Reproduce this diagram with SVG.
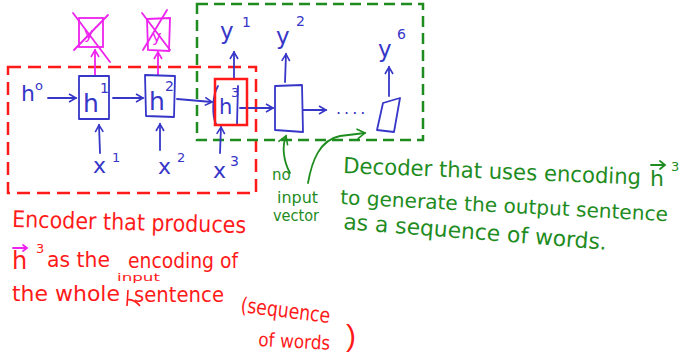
<svg xmlns="http://www.w3.org/2000/svg" width="684" height="360" viewBox="0 0 684 360">
<defs>
<style>
.bl{fill:none;stroke:#3636c8;stroke-width:1.8;stroke-linecap:round;stroke-linejoin:round}
.mg{fill:none;stroke:#ee22ee;stroke-width:1.8;stroke-linecap:round}
.gr{fill:none;stroke:#1e8c1e;stroke-width:1.8;stroke-linecap:round}
.tb{fill:#3636c8;font-family:"DejaVu Sans",sans-serif}
.tm{fill:#ee22ee;font-family:"DejaVu Sans",sans-serif}
.tr{fill:#ff1a1a;font-family:"DejaVu Sans",sans-serif}
.tg{fill:#1e8c1e;font-family:"DejaVu Sans",sans-serif}
.redbox{fill:none;stroke:#ff1a1a;stroke-width:2.5;stroke-dasharray:13 7}
.grbox{fill:none;stroke:#1e8c1e;stroke-width:2.5;stroke-dasharray:11 6}
</style>
<marker id="ab" markerWidth="10" markerHeight="10" refX="8" refY="5" orient="auto" markerUnits="userSpaceOnUse"><path d="M1,1 L8,5 L1,9" fill="none" stroke="#3636c8" stroke-width="1.6"/></marker>
<marker id="am" markerWidth="10" markerHeight="10" refX="8" refY="5" orient="auto" markerUnits="userSpaceOnUse"><path d="M1,1 L8,5 L1,9" fill="none" stroke="#ee22ee" stroke-width="1.6"/></marker>
<marker id="ag" markerWidth="12" markerHeight="12" refX="9" refY="6" orient="auto" markerUnits="userSpaceOnUse"><path d="M1,1 L9,6 L1,11" fill="none" stroke="#1e8c1e" stroke-width="1.6"/></marker>
</defs>
<rect width="684" height="360" fill="#fff"/>

<rect id="encoder-region" class="redbox" x="8" y="67" width="248" height="126"/>
<rect id="decoder-region" class="grbox" x="197" y="4" width="226" height="136"/>

<g id="connectors">
<path class="bl" d="M48,98 L76,98" marker-end="url(#ab)"/>
<path class="bl" d="M113,98 L143,98" marker-end="url(#ab)"/>
<path class="bl" d="M177,99 L212,102" marker-end="url(#ab)"/>
<path class="bl" d="M240,108 L273,108" marker-end="url(#ab)"/>
<path class="bl" d="M303,110 L326,110" marker-end="url(#ab)"/>
<path class="bl" d="M100,153 L99,125" marker-end="url(#ab)"/>
<path class="bl" d="M160,150 L160,124" marker-end="url(#ab)"/>
<path class="bl" d="M220,153 L221,127" marker-end="url(#ab)"/>
<path class="bl" d="M234,79 L234,52" marker-end="url(#ab)"/>
<path class="bl" d="M285,82 L286,54" marker-end="url(#ab)"/>
<path class="bl" d="M389,96 L389,67" marker-end="url(#ab)"/>
<path class="mg" d="M95,76 L95,50" marker-end="url(#am)"/>
<path class="mg" d="M158,75 L158,52" marker-end="url(#am)"/>
<path class="gr" d="M290,173 C283,160 282,146 286,136" marker-end="url(#ag)"/>
<path class="gr" d="M308,183 C312,160 320,140 340,136 L365,133" marker-end="url(#ag)"/>
</g>

<g id="h0"><text class="tb" x="21" y="101" font-size="22">h</text><text class="tb" x="35" y="90" font-size="13">o</text></g>

<g id="h1"><rect class="bl" x="79" y="76" width="30" height="43"/><text class="tb" x="83" y="112" font-size="25">h</text><text class="tb" x="100" y="93" font-size="14">1</text></g>
<g id="h2"><path class="bl" d="M145,75 L175,76 L174,117 L146,116 Z"/><text class="tb" x="149" y="110" font-size="25">h</text><text class="tb" x="165" y="91" font-size="14">2</text></g>
<g id="h3"><path class="bl" d="M218,86 C212,96 212,116 216,124"/><path class="bl" d="M238,86 L237,124"/><text class="tb" x="219" y="114" font-size="21">h</text><text class="tb" x="231" y="97" font-size="13">3</text><rect x="215" y="79" width="32" height="46" fill="none" stroke="#ff1a1a" stroke-width="2.5"/></g>
<g id="d2"><path class="bl" d="M275,86 L302,85 L303,132 L275,130 Z"/></g>
<g id="dots"><text class="tb" x="336" y="114" font-size="16" letter-spacing="3">....</text></g>
<g id="d6"><path class="bl" d="M383,103 L400,98 L394,132 L377,130 Z"/></g>

<g id="x1"><text class="tb" x="93" y="173" font-size="22">x</text><text class="tb" x="112" y="162" font-size="13">1</text></g>
<g id="x2"><text class="tb" x="158" y="174" font-size="22">x</text><text class="tb" x="177" y="162" font-size="13">2</text></g>
<g id="x3"><text class="tb" x="213" y="178" font-size="22">x</text><text class="tb" x="230" y="166" font-size="14">3</text></g>
<g id="y1"><text class="tb" x="220" y="39" font-size="23">y</text><text class="tb" x="242" y="27" font-size="14">1</text></g>
<g id="y2"><text class="tb" x="276" y="44" font-size="23">y</text><text class="tb" x="296" y="26" font-size="14">2</text></g>
<g id="y6"><text class="tb" x="378" y="57" font-size="23">y</text><text class="tb" x="397" y="39" font-size="14">6</text></g>

<g id="out1-crossed"><rect class="mg" x="79" y="18" width="24" height="29"/><text class="tm" x="84" y="39" font-size="16">y</text><path class="mg" d="M73,13 L110,62 M108,15 L74,50"/></g>
<g id="out2-crossed"><path class="mg" d="M147,19 L170,18 L169,51 L148,50 Z"/><text class="tm" x="152" y="42" font-size="16">y</text><path class="mg" d="M142,13 L170,50 M167,10 L143,50"/></g>

<g id="decoder-note">
<text class="tg" x="272" y="180" font-size="15">no</text>
<text class="tg" x="277" y="203" font-size="15" textLength="41" lengthAdjust="spacingAndGlyphs">input</text>
<text class="tg" x="273" y="221" font-size="15" textLength="46" lengthAdjust="spacingAndGlyphs">vector</text>
<text class="tg" x="343" y="173" font-size="22" textLength="298" lengthAdjust="spacingAndGlyphs" transform="rotate(2.2 343 173)">Decoder that uses encoding</text>
<text class="tg" x="650" y="186" font-size="22">h</text>
<path class="gr" d="M651,165 L665,165 M660,161 L665,165 L660,169" stroke-width="1.4"/>
<text class="tg" x="671" y="171" font-size="13">3</text>
<text class="tg" x="340" y="204" font-size="20" textLength="328" lengthAdjust="spacingAndGlyphs" transform="rotate(3 340 204)">to generate the output sentence</text>
<text class="tg" x="343" y="229" font-size="22" textLength="264" lengthAdjust="spacingAndGlyphs" transform="rotate(4.5 343 229)">as a sequence of words.</text>
</g>

<g id="encoder-note">
<text class="tr" x="12" y="227" font-size="23" textLength="234" lengthAdjust="spacingAndGlyphs" transform="rotate(1.5 12 227)">Encoder that produces</text>
<text class="tr" x="12" y="269" font-size="24">h</text>
<path class="mg" d="M13,248 L27,248 M23,245 L27,248 L23,251" stroke-width="1.4"/>
<text class="tr" x="36" y="253" font-size="13">3</text>
<text class="tr" x="47" y="267" font-size="22" textLength="63" lengthAdjust="spacingAndGlyphs">as the</text>
<text class="tr" x="128" y="268" font-size="22" textLength="110" lengthAdjust="spacingAndGlyphs">encoding of</text>
<text class="tr" x="117" y="281" font-size="11" textLength="43" lengthAdjust="spacingAndGlyphs">input</text>
<path d="M128,290 L127,306 M127,300 Q133,298 140,306" fill="none" stroke="#ff1a1a" stroke-width="1.6"/>
<text class="tr" x="12" y="301" font-size="22" textLength="108" lengthAdjust="spacingAndGlyphs">the whole</text>
<text class="tr" x="134" y="302" font-size="22" textLength="90" lengthAdjust="spacingAndGlyphs">sentence</text>
<text class="tr" x="240" y="312" font-size="21" textLength="90" lengthAdjust="spacingAndGlyphs" transform="rotate(7 240 312)">(sequence</text>
<text class="tr" x="258" y="346" font-size="19" textLength="72" lengthAdjust="spacingAndGlyphs" transform="rotate(3 258 346)">of words</text>
<text x="346" y="346" font-size="30" fill="#ff1a1a" font-family="Liberation Sans, sans-serif">)</text>
</g>
</svg>
